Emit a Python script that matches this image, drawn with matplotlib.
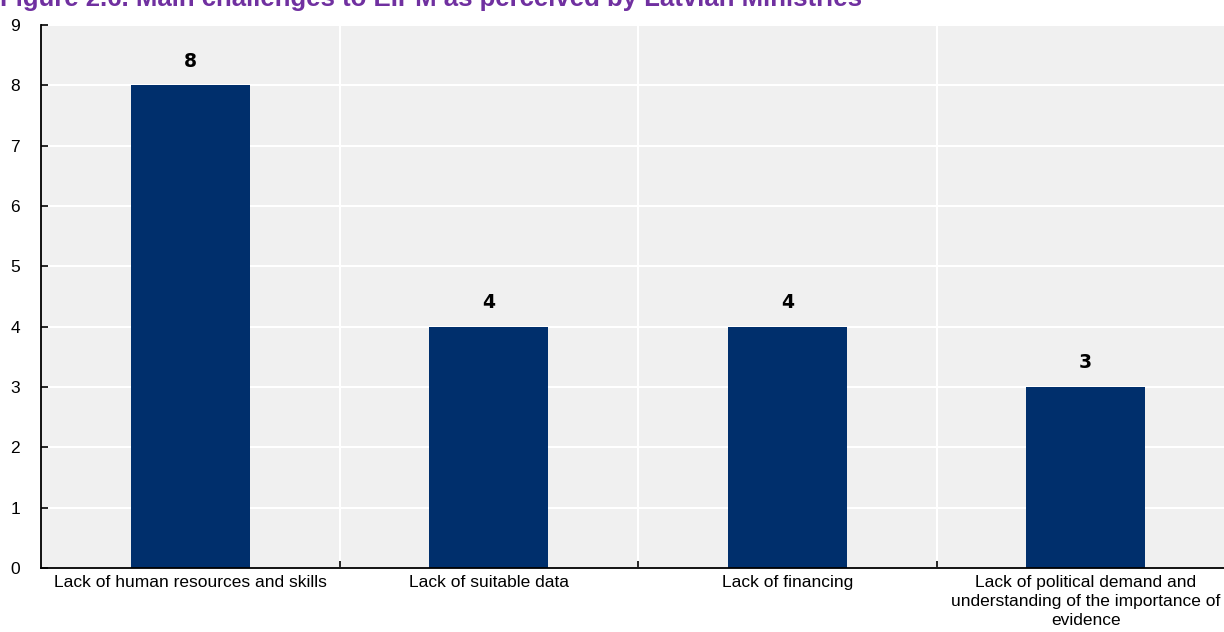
import numpy as np
import matplotlib.pyplot as plt
from matplotlib.ticker import FixedLocator, NullFormatter

categories = [
    "Lack of human resources and skills",
    "Lack of suitable data",
    "Lack of financing",
    "Lack of political demand and\nunderstanding of the importance of\nevidence",
]
counts = [8, 4, 4, 3]
title = "Figure 2.6. Main challenges to EIPM as perceived by Latvian Ministries"

navy = "#002F6C"
panel = "#F0F0F0"

fig = plt.figure(figsize=(12.24, 6.32), dpi=100)
ax = fig.add_axes([41 / 1224, 64 / 632, 1194 / 1224, 543 / 632])
ax.set_facecolor(panel)

x = np.arange(len(categories))
bars = ax.bar(x, counts, width=0.4, color=navy, zorder=3)

for b, v in zip(bars, counts):
    ax.annotate(str(v), (b.get_x() + b.get_width() / 2, v),
                xytext=(0, 17.5), textcoords="offset points",
                ha="center", va="center", fontsize=13.5, fontweight="bold",
                family="DejaVu Sans", color="black")

ax.set_xlim(-0.5, len(categories) - 0.5)
ax.set_ylim(0, 9)
ax.set_yticks(range(0, 10))
ax.set_xticks(x)
ax.set_xticklabels(categories, family="Liberation Sans", fontsize=12.5,
                   linespacing=1.35)
ax.xaxis.set_minor_locator(FixedLocator(x[:-1] + 0.5))
ax.xaxis.set_minor_formatter(NullFormatter())
for lab in ax.get_yticklabels():
    lab.set_family("Liberation Sans")
    lab.set_fontsize(12.5)

ax.tick_params(axis="x", which="major", length=0, pad=5)
ax.tick_params(axis="x", which="minor", direction="in", length=5, width=1.2)
ax.tick_params(axis="y", direction="in", length=5, width=1.2, pad=15)

ax.grid(axis="y", color="white", lw=1.5, zorder=0)
ax.grid(axis="x", which="minor", color="white", lw=1.5, zorder=0)

for side in ["top", "right"]:
    ax.spines[side].set_visible(False)
for side in ["left", "bottom"]:
    ax.spines[side].set_linewidth(1.3)
    ax.spines[side].set_zorder(4)

# heading sits on the top edge of the page
fig.text(0.0, 1 - 6 / 632, title, ha="left", va="baseline", fontsize=18.5,
         fontweight="bold", color="#7030A0", family="Liberation Sans")

fig.savefig("out.png", dpi=100)
